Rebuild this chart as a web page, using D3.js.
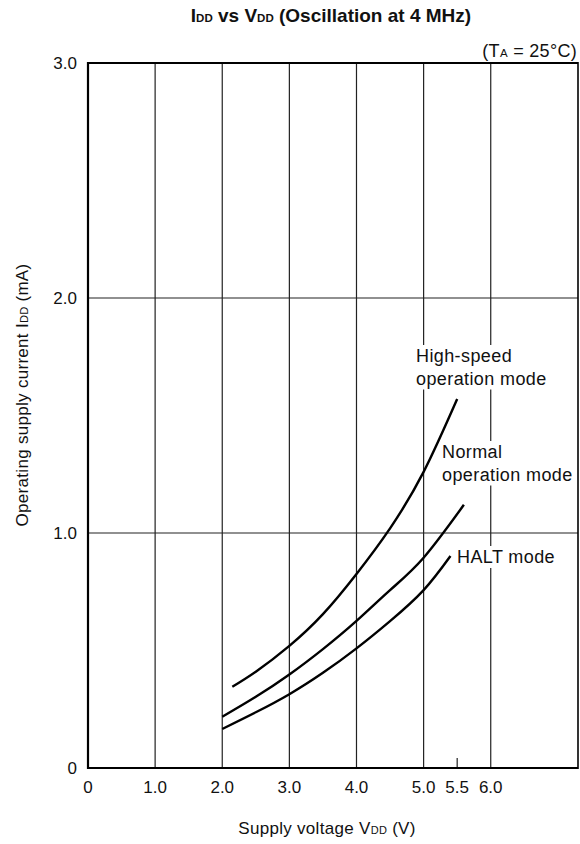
<!DOCTYPE html>
<html>
<head>
<meta charset="utf-8">
<script src="https://cdn.jsdelivr.net/npm/d3@7"></script>
<style>
  html, body { margin: 0; padding: 0; background: #fff; }
  svg text { font-family: "Liberation Sans", Arial, Helvetica, sans-serif; fill: #111; }
</style>
</head>
<body>
<svg id="chart" width="580" height="844"></svg>
<script>
// ---- data ----
const xTickValues = [0, 1.0, 2.0, 3.0, 4.0, 5.0, 5.5, 6.0];
const xTickLabels = ["0", "1.0", "2.0", "3.0", "4.0", "5.0", "5.5", "6.0"];
const xGridValues = [1.0, 2.0, 3.0, 4.0, 5.0, 6.0];
const yTickValues = [0, 1.0, 2.0, 3.0];
const yTickLabels = ["0", "1.0", "2.0", "3.0"];
const yGridValues = [1.0, 2.0];

const highSpeedV = [2.15, 2.5, 3.0, 3.5, 4.0, 4.5, 5.0, 5.5];
const highSpeedI = [0.346, 0.41, 0.52, 0.655, 0.826, 1.02, 1.26, 1.57];
const normalV = [2.0, 2.5, 3.0, 3.5, 4.0, 4.5, 5.0, 5.6];
const normalI = [0.218, 0.303, 0.398, 0.506, 0.626, 0.757, 0.895, 1.12];
const haltV = [2.0, 2.5, 3.0, 3.5, 4.0, 4.5, 5.0, 5.4];
const haltI = [0.166, 0.237, 0.314, 0.405, 0.509, 0.625, 0.757, 0.902];

(function () {
// ---- layout ----
const svg = d3.select("#chart");
const pLeft = 88, pRight = 578, pTop = 63, pBottom = 768;
const x = d3.scaleLinear().domain([0, 7.3]).range([pLeft, pRight]);
const y = d3.scaleLinear().domain([0, 3]).range([pBottom, pTop]);

// grid
const g = svg.append("g");
g.selectAll("line.vg").data(xGridValues).join("line")
  .attr("class", "vg")
  .attr("x1", d => x(d)).attr("x2", d => x(d))
  .attr("y1", pTop).attr("y2", pBottom)
  .attr("stroke", "#222").attr("stroke-width", 1.2);
g.selectAll("line.hg").data(yGridValues).join("line")
  .attr("class", "hg")
  .attr("x1", pLeft).attr("x2", pRight)
  .attr("y1", d => y(d)).attr("y2", d => y(d))
  .attr("stroke", "#222").attr("stroke-width", 1.2);

// short tick for 5.5
g.append("line")
  .attr("x1", x(5.5)).attr("x2", x(5.5))
  .attr("y1", pBottom).attr("y2", pBottom - 10)
  .attr("stroke", "#222").attr("stroke-width", 1.2);

// curves
const line = d3.line().x(d => x(d[0])).y(d => y(d[1])).curve(d3.curveNatural);
const series = [
  d3.zip(highSpeedV, highSpeedI),
  d3.zip(normalV, normalI),
  d3.zip(haltV, haltI)
];
svg.selectAll("path.curve").data(series).join("path")
  .attr("class", "curve")
  .attr("d", line)
  .attr("fill", "none").attr("stroke", "#000").attr("stroke-width", 2.4);

// frame
svg.append("line").attr("x1", pLeft).attr("x2", pLeft).attr("y1", pTop - 1).attr("y2", pBottom + 1)
  .attr("stroke", "#000").attr("stroke-width", 2.2);
svg.append("line").attr("x1", pLeft - 1).attr("x2", pRight).attr("y1", pTop).attr("y2", pTop)
  .attr("stroke", "#000").attr("stroke-width", 2.2);
svg.append("line").attr("x1", pLeft - 1).attr("x2", pRight).attr("y1", pBottom).attr("y2", pBottom)
  .attr("stroke", "#000").attr("stroke-width", 2.2);
svg.append("line").attr("x1", pRight).attr("x2", pRight).attr("y1", pTop - 1).attr("y2", pBottom + 1)
  .attr("stroke", "#000").attr("stroke-width", 1.6);

// annotation labels with white background
function label(lines, x0, y0, lh) {
  const grp = svg.append("g");
  const bgRect = grp.append("rect").attr("fill", "#fff");
  const t = grp.append("text").attr("font-size", 18).attr("letter-spacing", 0.4);
  lines.forEach((s, i) => t.append("tspan").attr("x", x0).attr("y", y0 + i * lh).text(s));
  const bb = t.node().getBBox();
  bgRect.attr("x", bb.x - 2).attr("y", bb.y - 1)
    .attr("width", bb.width + 4).attr("height", bb.height + 2);
}
label(["High-speed", "operation mode"], 416, 362, 22.5);
label(["Normal", "operation mode"], 442, 458, 22.5);
label(["HALT mode"], 457, 563, 22);

// axes tick labels
svg.selectAll("text.xt").data(xTickValues).join("text")
  .attr("class", "xt")
  .attr("x", d => x(d)).attr("y", 793)
  .attr("text-anchor", "middle").attr("font-size", 17)
  .text((d, i) => xTickLabels[i]);
svg.selectAll("text.yt").data(yTickValues).join("text")
  .attr("class", "yt")
  .attr("x", 77).attr("y", d => y(d) + 6)
  .attr("text-anchor", "end").attr("font-size", 17)
  .text((d, i) => yTickLabels[i]);

// title
const title = svg.append("text").attr("x", 331).attr("y", 22)
  .attr("text-anchor", "middle").attr("font-size", 19).attr("font-weight", "bold");
title.append("tspan").text("I");
title.append("tspan").attr("font-size", 11.5).text("DD");
title.append("tspan").text(" vs V");
title.append("tspan").attr("font-size", 11.5).text("DD");
title.append("tspan").text(" (Oscillation at 4 MHz)");

// condition
const cond = svg.append("text").attr("x", 577).attr("y", 57)
  .attr("text-anchor", "end").attr("font-size", 18).attr("letter-spacing", 0.3);
cond.append("tspan").text("(T");
cond.append("tspan").attr("font-size", 11.5).text("A");
cond.append("tspan").text(" = 25°C)");

// axis titles
const xt = svg.append("text").attr("x", 327).attr("y", 834)
  .attr("text-anchor", "middle").attr("font-size", 17).attr("letter-spacing", 0.3);
xt.append("tspan").text("Supply voltage V");
xt.append("tspan").attr("font-size", 11).text("DD");
xt.append("tspan").text(" (V)");

const yt = svg.append("text").attr("transform", "translate(28,395) rotate(-90)")
  .attr("text-anchor", "middle").attr("font-size", 17).attr("letter-spacing", 0.3);
yt.append("tspan").text("Operating supply current I");
yt.append("tspan").attr("font-size", 11).text("DD");
yt.append("tspan").text(" (mA)");
})();
</script>
</body>
</html>
